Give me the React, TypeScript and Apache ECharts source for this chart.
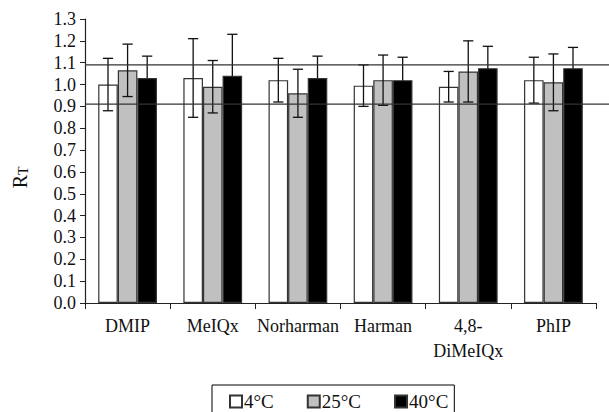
import React, { useEffect, useRef } from "react";
import * as echarts from "echarts";

const categories = ["DMIP", "MeIQx", "Norharman", "Harman", "4,8-\nDiMeIQx", "PhIP"];
const seriesNames = ["4°C", "25°C", "40°C"];
const t4 = [1.0, 1.03, 1.02, 0.995, 0.99, 1.02];
const t4Err = [0.12, 0.18, 0.1, 0.095, 0.07, 0.105];
const t25 = [1.065, 0.99, 0.96, 1.02, 1.06, 1.01];
const t25Err = [0.12, 0.12, 0.11, 0.115, 0.14, 0.13];
const t40 = [1.03, 1.04, 1.03, 1.02, 1.075, 1.075];
const t40Err = [0.1, 0.19, 0.1, 0.105, 0.1, 0.095];
const refLines = [1.09, 0.91];
const yTicks = { min: 0, max: 1.3, interval: 0.1 };

const FONT = "'Liberation Serif', 'Times New Roman', serif";
const fills = ["#ffffff", "#c0c0c0", "#000000"];
const CAT_GAP = 0.31;

export default function App() {
  const ref = useRef<HTMLDivElement>(null);
  useEffect(() => {
    if (!ref.current) return;
    const chart = echarts.init(ref.current, null, { renderer: "svg" });
    const values = [t4, t25, t40];
    const errs = [t4Err, t25Err, t40Err];

    const barSeries = values.map((vals, k) => ({
      name: seriesNames[k],
      type: "bar",
      data: vals,
      barGap: "0%",
      barCategoryGap: CAT_GAP * 100 + "%",
      itemStyle: { color: fills[k], borderColor: "#333", borderWidth: 1.2 },
      z: 2,
    }));

    const errSeries = values.map((vals, k) => ({
      name: "err" + k,
      type: "custom",
      z: k === 2 ? 1 : 4,
      data: vals.map((v, i) => [i, v - errs[k][i], v + errs[k][i]]),
      renderItem: (params: any, api: any) => {
        const ci = api.value(0);
        const lo = api.coord([ci, api.value(1)]);
        const hi = api.coord([ci, api.value(2)]);
        const band = api.size([1, 0])[0];
        const bw = (band * (1 - CAT_GAP)) / 3;
        const x = lo[0] + (k - 1) * bw;
        const cap = bw * 0.26;
        const style = { stroke: "#111", lineWidth: 1.3 };
        return {
          type: "group",
          children: [
            { type: "line", shape: { x1: x, y1: lo[1], x2: x, y2: hi[1] }, style },
            { type: "line", shape: { x1: x - cap, y1: hi[1], x2: x + cap, y2: hi[1] }, style },
            { type: "line", shape: { x1: x - cap, y1: lo[1], x2: x + cap, y2: lo[1] }, style },
          ],
        };
      },
    }));

    const lineSeries = refLines.map((v, i) => ({
      name: "ref" + i,
      type: "line",
      xAxisIndex: 1,
      yAxisIndex: 1,
      data: [
        [0, v],
        [1, v],
      ],
      symbol: "none",
      silent: true,
      lineStyle: { color: "#333", width: 1.2 },
      z: 5,
    }));

    chart.setOption({
      animation: false,
      textStyle: { fontFamily: FONT },
      grid: [
        { left: 85, top: 19, right: 13, bottom: 109, containLabel: false },
        { left: 85, top: 19, right: 0, bottom: 109, containLabel: false },
      ],
      graphic: [
        {
          type: "group",
          x: 20,
          y: 171,
          rotation: Math.PI / 2,
          children: [
            {
              type: "text",
              x: -4,
              y: 0,
              style: {
                text: "R",
                font: "20px " + FONT,
                fill: "#111",
                align: "right",
                verticalAlign: "middle",
              },
            },
            {
              type: "text",
              x: -4,
              y: 3,
              style: {
                text: "T",
                font: "14px " + FONT,
                fill: "#111",
                align: "left",
                verticalAlign: "middle",
              },
            },
          ],
        },
      ],
      legend: {
        data: seriesNames,
        selectedMode: false,
        left: 212,
        top: 385,
        orient: "horizontal",
        itemWidth: 12,
        itemHeight: 12,
        itemGap: 33,
        icon: "rect",
        borderColor: "#000",
        borderWidth: 1,
        borderRadius: 0,
        padding: [7, 6, 30, 17],
        textStyle: { fontFamily: FONT, fontSize: 19, color: "#111", padding: [0, 0, 0, -3] },
      },
      xAxis: [
        {
          type: "category",
          gridIndex: 0,
          data: categories,
          axisLine: { lineStyle: { color: "#222", width: 1.2 } },
          axisTick: { show: true, length: 6, lineStyle: { color: "#222" } },
          axisLabel: {
            interval: 0,
            fontFamily: FONT,
            fontSize: 18,
            lineHeight: 25,
            margin: 10,
            color: "#111",
          },
        },
        { type: "value", gridIndex: 1, min: 0, max: 1, show: false },
      ],
      yAxis: [
        {
          type: "value",
          gridIndex: 0,
          min: yTicks.min,
          max: yTicks.max,
          interval: yTicks.interval,
          axisLine: { show: true, lineStyle: { color: "#222", width: 1.2 } },
          axisTick: { show: true, length: 5, lineStyle: { color: "#222" } },
          splitLine: { show: false },
          axisLabel: {
            fontFamily: FONT,
            fontSize: 18,
            margin: 9,
            color: "#111",
            formatter: (v: number) => v.toFixed(1),
          },
        },
        { type: "value", gridIndex: 1, min: yTicks.min, max: yTicks.max, show: false },
      ],
      series: [...barSeries, ...errSeries, ...lineSeries],
    });
    return () => chart.dispose();
  }, []);
  return <div ref={ref} style={{ width: 609, height: 412, position: "absolute", left: 0, top: 0 }} />;
}
